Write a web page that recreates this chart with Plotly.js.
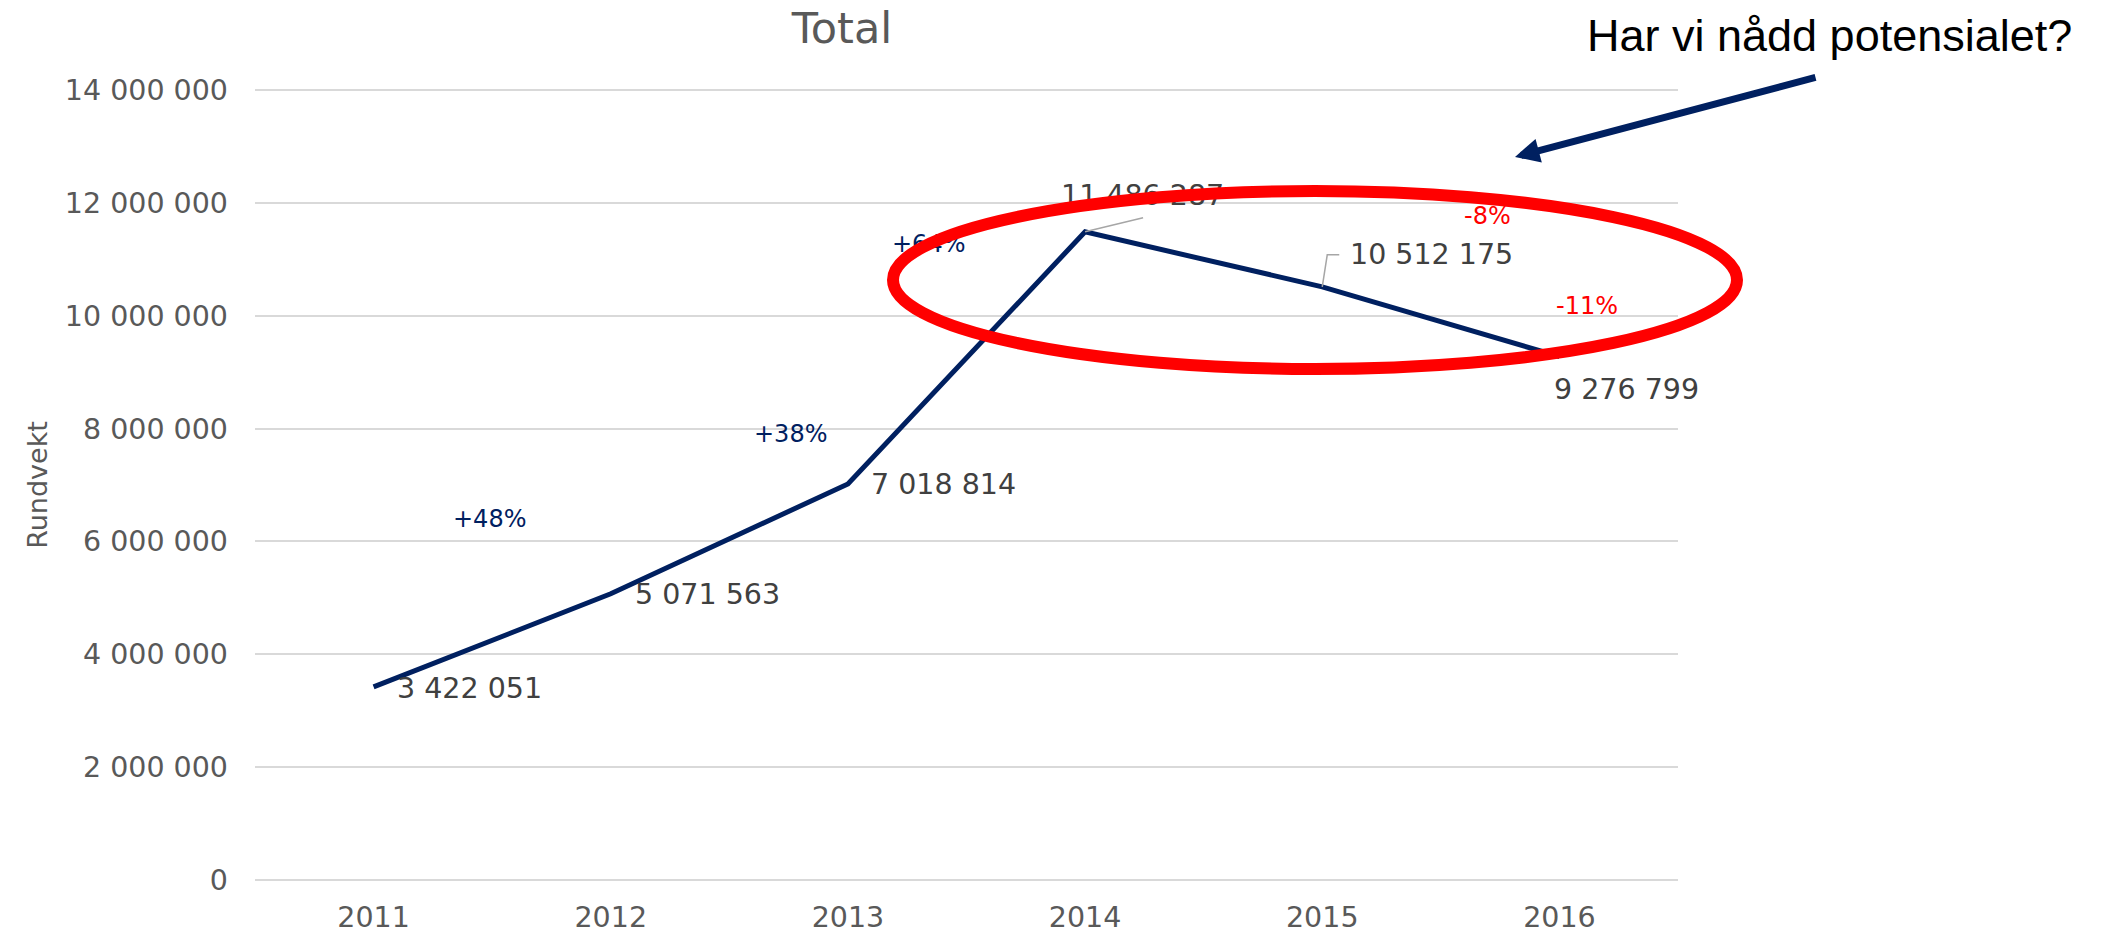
<!DOCTYPE html>
<html>
<head>
<meta charset="utf-8">
<script src="https://cdn.plot.ly/plotly-3.0.1.min.js"></script>
<style>
  html, body { margin: 0; padding: 0; background: #ffffff; }
  #chart { width: 2105px; height: 934px; }
</style>
</head>
<body>
<div id="chart"></div>
<script>
// ---------------- data ----------------
const years = ['2011', '2012', '2013', '2014', '2015', '2016'];
const rundvekt = [3422051, 5071563, 7018814, 11486287, 10512175, 9276799];
const changeLabels = ['+48%', '+38%', '+64%', '-8%', '-11%'];
const yTickValues = [0, 2000000, 4000000, 6000000, 8000000, 10000000, 12000000, 14000000];
const yMax = 14000000;
const chartTitle = 'Total';
const yAxisTitle = 'Rundvekt';
const calloutText = 'Har vi nådd potensialet?';

// ---------------- layout / style ----------------
const W = 2105, H = 934;
const plotL = 255, plotR = 1678, plotT = 90, plotB = 880;   // pixel rows of yMax and 0
const PAD = 3;                                               // px of breathing room so edge gridlines show
const domT = plotT - PAD, domB = plotB + PAD;
const unitsPerPx = yMax / (plotB - plotT);
const FONT = 'DejaVu Sans, Verdana, sans-serif';
const NAVY = '#002060', RED = '#FF0000';

function fmt(n) { return String(n).replace(/\B(?=(\d{3})+(?!\d))/g, ' '); }
function paperX(px) { return (px - plotL) / (plotR - plotL); }
function paperY(py) { return (domB - py) / (domB - domT); }

// pixel offsets of value labels relative to their points
const valueLabelPos = [
  { xanchor: 'left',   xshift: 21,  yshift: -2 },
  { xanchor: 'left',   xshift: 22,  yshift: -1 },
  { xanchor: 'left',   xshift: 21,  yshift: -1 },
  { xanchor: 'center', xshift: 57,  yshift: 36 },
  { xanchor: 'left',   xshift: 26,  yshift: 32 },
  { xanchor: 'left',   xshift: -7,  yshift: -33 }
];
// pixel offsets of change labels relative to segment midpoints
const changeLabelPos = [
  { xshift: -3,  yshift: 121 },
  { xshift: 61,  yshift: 105 },
  { xshift: -38, yshift: 114 },
  { xshift: 284, yshift: 43 },
  { xshift: 146, yshift: 16 }
];
// leader lines (pixel paths relative to the point)
const leaderPaths = { 3: 'M0,0 L58,14', 4: 'M0,0 L5,32 L17,32' };

const trace = {
  type: 'scatter',
  mode: 'lines',
  x: years,
  y: rundvekt,
  line: { color: NAVY, width: 5 },
  hoverinfo: 'skip',
  cliponaxis: false
};

const annotations = [];
rundvekt.forEach((v, i) => {
  const p = valueLabelPos[i];
  annotations.push({
    x: i, y: v, xref: 'x', yref: 'y',
    text: fmt(v), showarrow: false,
    xanchor: p.xanchor, yanchor: 'middle',
    xshift: p.xshift, yshift: p.yshift,
    font: { family: FONT, size: 28.5, color: '#404040' }
  });
});
changeLabels.forEach((t, i) => {
  const p = changeLabelPos[i];
  annotations.push({
    x: i + 0.5, y: (rundvekt[i] + rundvekt[i + 1]) / 2, xref: 'x', yref: 'y',
    text: t, showarrow: false,
    xanchor: 'center', yanchor: 'middle',
    xshift: p.xshift, yshift: p.yshift,
    font: { family: FONT, size: 24, color: t.charAt(0) === '-' ? RED : NAVY }
  });
});
// callout text
annotations.push({
  xref: 'paper', yref: 'paper', x: paperX(1585), y: paperY(35),
  xanchor: 'left', yanchor: 'middle', showarrow: false,
  text: calloutText,
  font: { family: 'Liberation Sans, Arial, sans-serif', size: 45, color: '#000000' }
});
// callout arrow
annotations.push({
  xref: 'paper', yref: 'paper', x: paperX(1515), y: paperY(157),
  axref: 'pixel', ayref: 'pixel', ax: 302, ay: -80,
  text: '', showarrow: true, arrowhead: 2, arrowsize: 0.7, arrowwidth: 7,
  arrowcolor: NAVY, standoff: 0
});

const shapes = [];
Object.keys(leaderPaths).forEach(k => {
  const i = Number(k);
  shapes.push({
    type: 'path', xref: 'x', yref: 'y',
    xsizemode: 'pixel', ysizemode: 'pixel',
    xanchor: i, yanchor: rundvekt[i],
    path: leaderPaths[k],
    line: { color: '#A6A6A6', width: 1.5 },
    layer: 'above'
  });
});
shapes.push({
  type: 'circle', xref: 'paper', yref: 'paper',
  x0: paperX(893), x1: paperX(1737), y0: paperY(369), y1: paperY(191),
  line: { color: RED, width: 12 }, layer: 'above'
});

const layout = {
  width: W, height: H,
  margin: { l: plotL, r: W - plotR, t: domT, b: H - domB, pad: 0 },
  paper_bgcolor: '#ffffff', plot_bgcolor: '#ffffff',
  showlegend: false,
  separators: ', ',
  title: {
    text: chartTitle, xref: 'container', yref: 'container',
    x: 842 / W, y: 1 - 27.5 / H, xanchor: 'center', yanchor: 'middle',
    font: { family: FONT, size: 43, color: '#595959' }
  },
  xaxis: {
    type: 'category', range: [-0.5, 5.5],
    showgrid: false, zeroline: false, showline: false, ticks: '',
    tickfont: { family: FONT, size: 28.5, color: '#595959' },
    ticklabelstandoff: 14, fixedrange: true
  },
  yaxis: {
    range: [-PAD * unitsPerPx, yMax + PAD * unitsPerPx],
    tickvals: yTickValues, tickformat: ',d',
    showgrid: true, gridcolor: '#D9D9D9', gridwidth: 2,
    zeroline: false, showline: false, ticks: '',
    tickfont: { family: FONT, size: 28.5, color: '#595959' },
    ticklabelstandoff: 26, automargin: true,
    title: { text: yAxisTitle, standoff: 9, font: { family: FONT, size: 27, color: '#595959' } },
    fixedrange: true
  },
  shapes: shapes,
  annotations: annotations
};

Plotly.newPlot('chart', [trace], layout, { staticPlot: true, displayModeBar: false }).then(gd => {
  // draw the highlight shapes above the text labels, as in the original
  const svgs = gd.querySelectorAll('svg.main-svg');
  const above = gd.querySelector('.layer-above');
  if (svgs.length > 1 && above) svgs[1].appendChild(above);
});
</script>
</body>
</html>
